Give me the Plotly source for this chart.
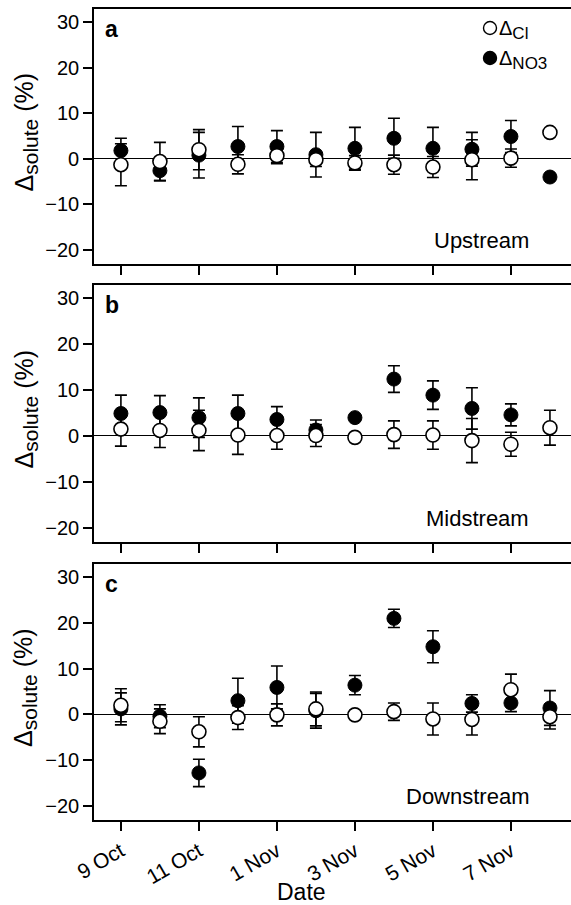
import plotly.graph_objects as go

dates = ["9 Oct", "10 Oct", "11 Oct", "31 Oct", "1 Nov", "2 Nov", "3 Nov", "4 Nov", "5 Nov", "6 Nov", "7 Nov", "8 Nov"]
tick_idx = [0, 2, 4, 6, 8, 10]
tick_labels = ["9 Oct", "11 Oct", "1 Nov", "3 Nov", "5 Nov", "7 Nov"]
x_idx = list(range(len(dates)))

# Panel a (Upstream)
a_no3 = [1.8, -2.6, 0.8, 2.7, 2.7, 0.9, 2.3, 4.5, 2.3, 2.1, 4.9, -4.0]
a_no3_err = [2.7, 2.2, 5.0, 4.4, 3.5, 4.9, 4.6, 4.4, 4.6, 3.7, 3.5, 0]
a_cl = [-1.3, -0.6, 2.0, -1.2, 0.7, -0.2, -0.9, -1.3, -1.8, -0.2, 0.15, 5.8]
a_cl_err = [4.6, 4.2, 4.4, 2.1, 1.8, 1.5, 1.6, 2.1, 2.3, 4.4, 2.0, 0]

# Panel b (Midstream)
b_no3 = [4.9, 5.1, 4.0, 4.9, 3.6, 1.3, 4.0, 12.4, 8.9, 6.0, 4.6, None]
b_no3_err = [4.0, 3.7, 4.3, 4.0, 2.8, 2.2, 0, 2.9, 3.1, 4.5, 2.4, 0]
b_cl = [1.5, 1.2, 1.2, 0.2, 0.1, 0.1, -0.3, 0.3, 0.2, -1.0, -1.8, 1.8]
b_cl_err = [3.7, 3.7, 4.4, 4.2, 3.0, 2.4, 0, 3.0, 3.1, 4.8, 2.6, 3.8]

# Panel c (Downstream)
c_no3 = [1.2, -0.4, -12.8, 3.0, 5.9, 0.8, 6.4, 21.0, 14.8, 2.4, 2.5, 1.4]
c_no3_err = [3.5, 2.5, 3.0, 4.9, 4.7, 3.8, 2.1, 2.0, 3.5, 1.9, 1.9, 3.8]
c_cl = [2.0, -1.5, -3.8, -0.7, -0.1, 1.2, -0.1, 0.6, -1.0, -1.1, 5.4, -0.5]
c_cl_err = [3.6, 2.7, 3.3, 2.6, 2.4, 3.7, 0, 1.9, 3.5, 3.4, 3.4, 2.7]

panels = [
    ("a", "Upstream", a_no3, a_no3_err, a_cl, a_cl_err),
    ("b", "Midstream", b_no3, b_no3_err, b_cl, b_cl_err),
    ("c", "Downstream", c_no3, c_no3_err, c_cl, c_cl_err),
]

H = 905.0
W = 571.0
panel_px = [(9, 264), (285, 542), (564, 820)]
x_left = 94 / W

FONT = "Liberation Sans, Arial, sans-serif"
fig = go.Figure()

ytitle = 'Δ<sub><span style="font-size:21px">solute</span></sub> (%)'

for i, (letter, name, no3, no3e, cl, cle) in enumerate(panels):
    sfx = "" if i == 0 else str(i + 1)
    xa, ya = "x" + sfx, "y" + sfx
    fig.add_trace(go.Scatter(
        x=x_idx, y=no3, mode="markers", xaxis=xa, yaxis=ya,
        name="ΔNO3", showlegend=False,
        marker=dict(symbol="circle", size=14, color="black", line=dict(color="black", width=1)),
        error_y=dict(type="data", array=no3e, symmetric=True, color="black", thickness=1.6, width=6),
    ))
    fig.add_trace(go.Scatter(
        x=x_idx, y=cl, mode="markers", xaxis=xa, yaxis=ya,
        name="ΔCl", showlegend=False,
        marker=dict(symbol="circle", size=14, color="white", line=dict(color="black", width=1.6)),
        error_y=dict(type="data", array=cle, symmetric=True, color="black", thickness=1.6, width=6),
    ))
    top, bot = panel_px[i]
    dom = [1 - bot / H, 1 - top / H]
    xaxis = dict(
        domain=[x_left, 1], anchor=ya, range=[-0.69, 11.54],
        tickmode="array", tickvals=tick_idx, ticktext=tick_labels,
        showticklabels=(i == 2), tickangle=-30,
        ticks="outside", ticklen=9, tickwidth=1.5, tickcolor="black",
        showline=True, linecolor="black", linewidth=1.6, mirror=True,
        showgrid=False, zeroline=False, automargin=False,
        tickfont=dict(family=FONT, size=21, color="black"),
    )
    yaxis = dict(
        domain=dom, anchor=xa, range=[-23.1, 32.9],
        tickmode="array", tickvals=[-20, -10, 0, 10, 20, 30],
        ticks="outside", ticklen=9, tickwidth=1.5, tickcolor="black",
        showline=True, linecolor="black", linewidth=1.6, mirror=False,
        showgrid=False, zeroline=True, zerolinecolor="black", zerolinewidth=1.2,
        automargin=False,
        tickfont=dict(family=FONT, size=20, color="black"),
    )
    fig.layout["xaxis" + sfx] = xaxis
    fig.layout["yaxis" + sfx] = yaxis

    ymid_px = (top + bot) / 2 - 4
    fig.add_annotation(text=ytitle, textangle=-90, x=25 / W, y=1 - ymid_px / H,
                       xref="paper", yref="paper", xanchor="center", yanchor="middle", showarrow=False,
                       font=dict(family=FONT, size=25, color="black"))
    fig.add_annotation(text="<b>%s</b>" % letter, x=103 / W, y=1 - (top + 35) / H,
                       xref="paper", yref="paper", xanchor="left", yanchor="bottom", showarrow=False,
                       font=dict(family=FONT, size=23, color="black"))
    fig.add_annotation(text=name, x=531 / W, y=1 - (bot - 9) / H,
                       xref="paper", yref="paper", xanchor="right", yanchor="bottom", showarrow=False,
                       font=dict(family=FONT, size=22, color="black"))

fig.add_annotation(text="Date", x=301 / W, y=1 - 892 / H, xref="paper", yref="paper",
                   xanchor="center", yanchor="middle",
                   showarrow=False, font=dict(family=FONT, size=23, color="black"))

# legend key (top right of panel a)
legend_items = [("Cl", "white", 28), ("NO3", "black", 58)]
for label, fill, ypx in legend_items:
    fig.add_shape(type="circle", xref="paper", yref="paper",
                  xsizemode="pixel", ysizemode="pixel",
                  xanchor=490 / W, yanchor=1 - ypx / H,
                  x0=-6.5, x1=6.5, y0=-6.5, y1=6.5,
                  fillcolor=fill, line=dict(color="black", width=1.4))
    fig.add_annotation(text='Δ<sub><span style="font-size:17px">%s</span></sub>' % label,
                       x=497 / W, y=1 - (ypx + 2) / H, xref="paper", yref="paper",
                       xanchor="left", yanchor="middle", showarrow=False,
                       font=dict(family=FONT, size=20, color="black"))

fig.update_layout(
    width=571, height=905,
    margin=dict(l=0, r=0, t=0, b=0),
    paper_bgcolor="white", plot_bgcolor="white",
    showlegend=False,
)

fig.write_html("out.html")
